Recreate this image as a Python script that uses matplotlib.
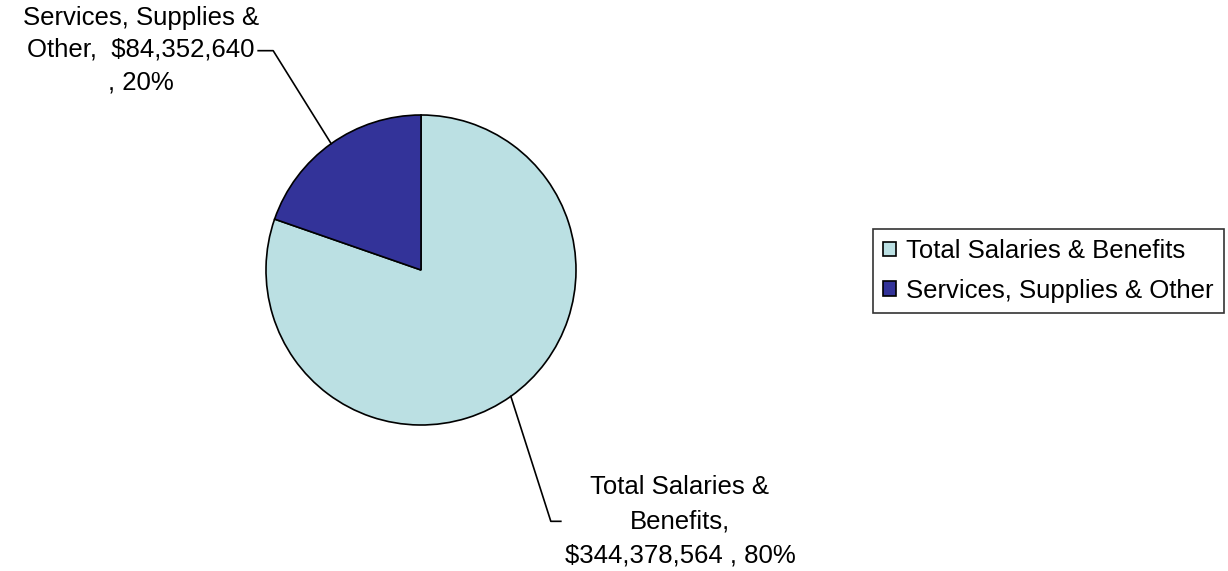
import numpy as np
import matplotlib
matplotlib.use("Agg")
import matplotlib.pyplot as plt

categories = ["Total Salaries & Benefits", "Services, Supplies & Other"]
values = [344378564, 84352640]
colors = ["#BBE0E3", "#333399"]
label_texts = ["Total Salaries &\nBenefits,\n$344,378,564 , 80%",
               "Services, Supplies &\nOther,  $84,352,640\n, 20%"]

plt.rcParams['font.family'] = ['Liberation Sans', 'DejaVu Sans']

W, H = 1228, 571
fig = plt.figure(figsize=(W / 100, H / 100), dpi=100)
ax = fig.add_axes([0, 0, 1, 1])

cx, cy, r = 421, H - 270, 155
wedges, _ = ax.pie(values, colors=colors, startangle=90, counterclock=False,
                   center=(cx, cy), radius=r,
                   wedgeprops=dict(edgecolor="black", linewidth=1.2))
ax.set_xlim(0, W)
ax.set_ylim(0, H)
ax.set_aspect('equal')
ax.axis('off')

# leader lines + labels (layout offsets in pixels)
elbows = [(40, -125, 10), (-58, 93, -15)]   # dx, dy from edge point, horizontal stub
text_pos = [(680, H - 521), (141, H - 50)]
spacings = [1.55, 1.44]
for w, (dx, dy, stub), txt, (tx, ty), ls in zip(wedges, elbows, label_texts, text_pos, spacings):
    mid = np.deg2rad((w.theta1 + w.theta2) / 2)
    ex, ey = cx + r * np.cos(mid), cy + r * np.sin(mid)
    kx, ky = ex + dx, ey + dy
    ax.plot([ex, kx, kx + stub], [ey, ky, ky], color="black", lw=1.2)
    ax.text(tx, ty, txt, ha="center", va="center", fontsize=18.5, linespacing=ls)

leg = fig.legend(wedges, categories, loc="upper left",
                 bbox_to_anchor=(873 / W, 1 - 229 / H), fontsize=18.5,
                 frameon=True, fancybox=False, edgecolor="black",
                 handlelength=0.5, handleheight=0.5, handletextpad=0.4,
                 labelspacing=0.6, borderpad=0.4, borderaxespad=0)
leg.get_frame().set_linewidth(1.2)

fig.savefig("out.png", dpi=100)
